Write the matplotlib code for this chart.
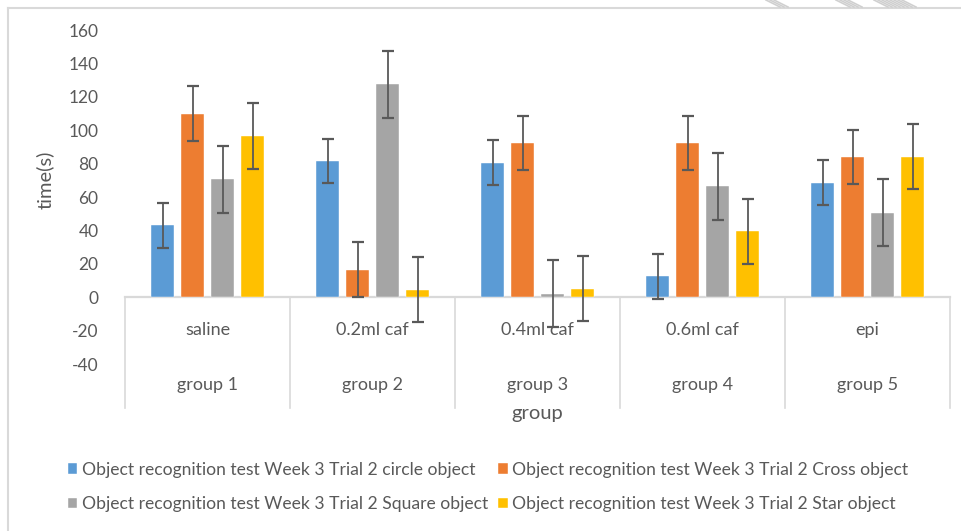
#!/usr/bin/env python3
"""Object recognition test, week 3 trial 2: time per object by group."""
import matplotlib

matplotlib.use("Agg")
import matplotlib.pyplot as plt
import numpy as np
from matplotlib.lines import Line2D

plt.rcParams.update(
    {
        "font.family": ["Lato", "DejaVu Sans"],
        "figure.dpi": 100,
    }
)

groups = ["group 1", "group 2", "group 3", "group 4", "group 5"]
treatments = ["saline", "0.2ml caf", "0.4ml caf", "0.6ml caf", "epi"]
series_names = [
    "Object recognition test Week 3 Trial 2 circle object",
    "Object recognition test Week 3 Trial 2 Cross object",
    "Object recognition test Week 3 Trial 2 Square object",
    "Object recognition test Week 3 Trial 2 Star object",
]
circle = [43, 81.5, 80.5, 12.5, 68.5]
cross = [110, 16.5, 92.5, 92.5, 84]
square = [70.5, 127.5, 2, 66.5, 50.5]
star = [96.5, 4.5, 5, 39.5, 84]
circle_err = [13.4, 13.4, 13.4, 13.4, 13.4]
cross_err = [16.3, 16.3, 16.3, 16.3, 16.3]
square_err = [20.1, 20.1, 20.1, 20.1, 20.1]
star_err = [19.5, 19.5, 19.5, 19.5, 19.5]
yticks = [-40, -20, 0, 20, 40, 60, 80, 100, 120, 140, 160]

colors = ["#5B9BD5", "#ED7D31", "#A5A5A5", "#FFC000"]
TXT = "#595959"
LINE = "#D9D9D9"


def make_figure():
    fig = plt.figure(figsize=(9.61, 5.31))
    ax = fig.add_axes([125 / 961, 1 - 364 / 531, 825 / 961, 334 / 531])

    x = np.arange(len(groups))
    pitch = 30 / 165
    width = 23 / 165
    values = [circle, cross, square, star]
    errors = [circle_err, cross_err, square_err, star_err]
    handles = []
    for i, (vals, errs) in enumerate(zip(values, errors)):
        pos = x + (i - 1.5) * pitch
        bars = ax.bar(pos, vals, width, color=colors[i], edgecolor="white",
                      linewidth=0.3, label=series_names[i], zorder=2)
        handles.append(bars)
        ax.errorbar(pos, vals, yerr=errs, fmt="none", ecolor=TXT,
                    elinewidth=1.3, capsize=4, capthick=1.6, zorder=3)

    ax.set_xlim(-0.5, len(groups) - 0.5)
    ax.set_ylim(-40, 160)
    ax.set_yticks(yticks)
    ax.set_yticklabels([str(t) for t in yticks])
    ax.tick_params(axis="y", length=0, pad=19, labelsize=12.5, labelcolor=TXT)
    ax.set_xticks([])
    for sp in ax.spines.values():
        sp.set_visible(False)

    # category axis at zero with two label levels below it
    ax.plot([-0.5, len(groups) - 0.5], [0, 0], color=LINE, lw=1.6,
            clip_on=False, zorder=1)
    for b in np.arange(len(groups) + 1) - 0.5:
        ax.plot([b, b], [0, -66.5], color=LINE, lw=1.2, clip_on=False, zorder=1)
    for xi, (t, g) in enumerate(zip(treatments, groups)):
        ax.text(xi, -19.8, t, ha="center", va="center", fontsize=13,
                color=TXT, clip_on=False)
        ax.text(xi, -52.7, g, ha="center", va="center", fontsize=13,
                color=TXT, clip_on=False)
    ax.text(2, -69.5, "group", ha="center", va="center", fontsize=14.5,
            color=TXT, clip_on=False)

    fig.text(45 / 961, 1 - 180 / 531, "time(s)", rotation=90, ha="center",
             va="center", fontsize=14.5, color=TXT)

    order = [0, 2, 1, 3]
    fig.legend([handles[k] for k in order], [series_names[k] for k in order],
               loc="center", bbox_to_anchor=(488 / 961, 1 - 487 / 531),
               ncol=2, frameon=False, fontsize=12.6, handlelength=0.55,
               handleheight=0.55, handletextpad=0.25, columnspacing=0.6,
               labelspacing=1.05, labelcolor=TXT)

    # chart area border and page decoration
    fig.add_artist(Line2D([8 / 961, 8 / 961], [0, 1 - 8 / 531], color=LINE, lw=1.5))
    fig.add_artist(Line2D([8 / 961, 1], [1 - 8 / 531, 1 - 8 / 531], color=LINE, lw=1.5))
    for x0 in [766, 770, 774, 836, 840, 844, 848, 874, 878, 882, 886, 890, 894, 898, 902]:
        fig.add_artist(Line2D([x0 / 961, (x0 + 14) / 961], [1, 1 - 7 / 531],
                              color="#D0D0D0", lw=1.2))

    fig.savefig("out.png", dpi=100)
    plt.close(fig)


if __name__ == "__main__":
    make_figure()
